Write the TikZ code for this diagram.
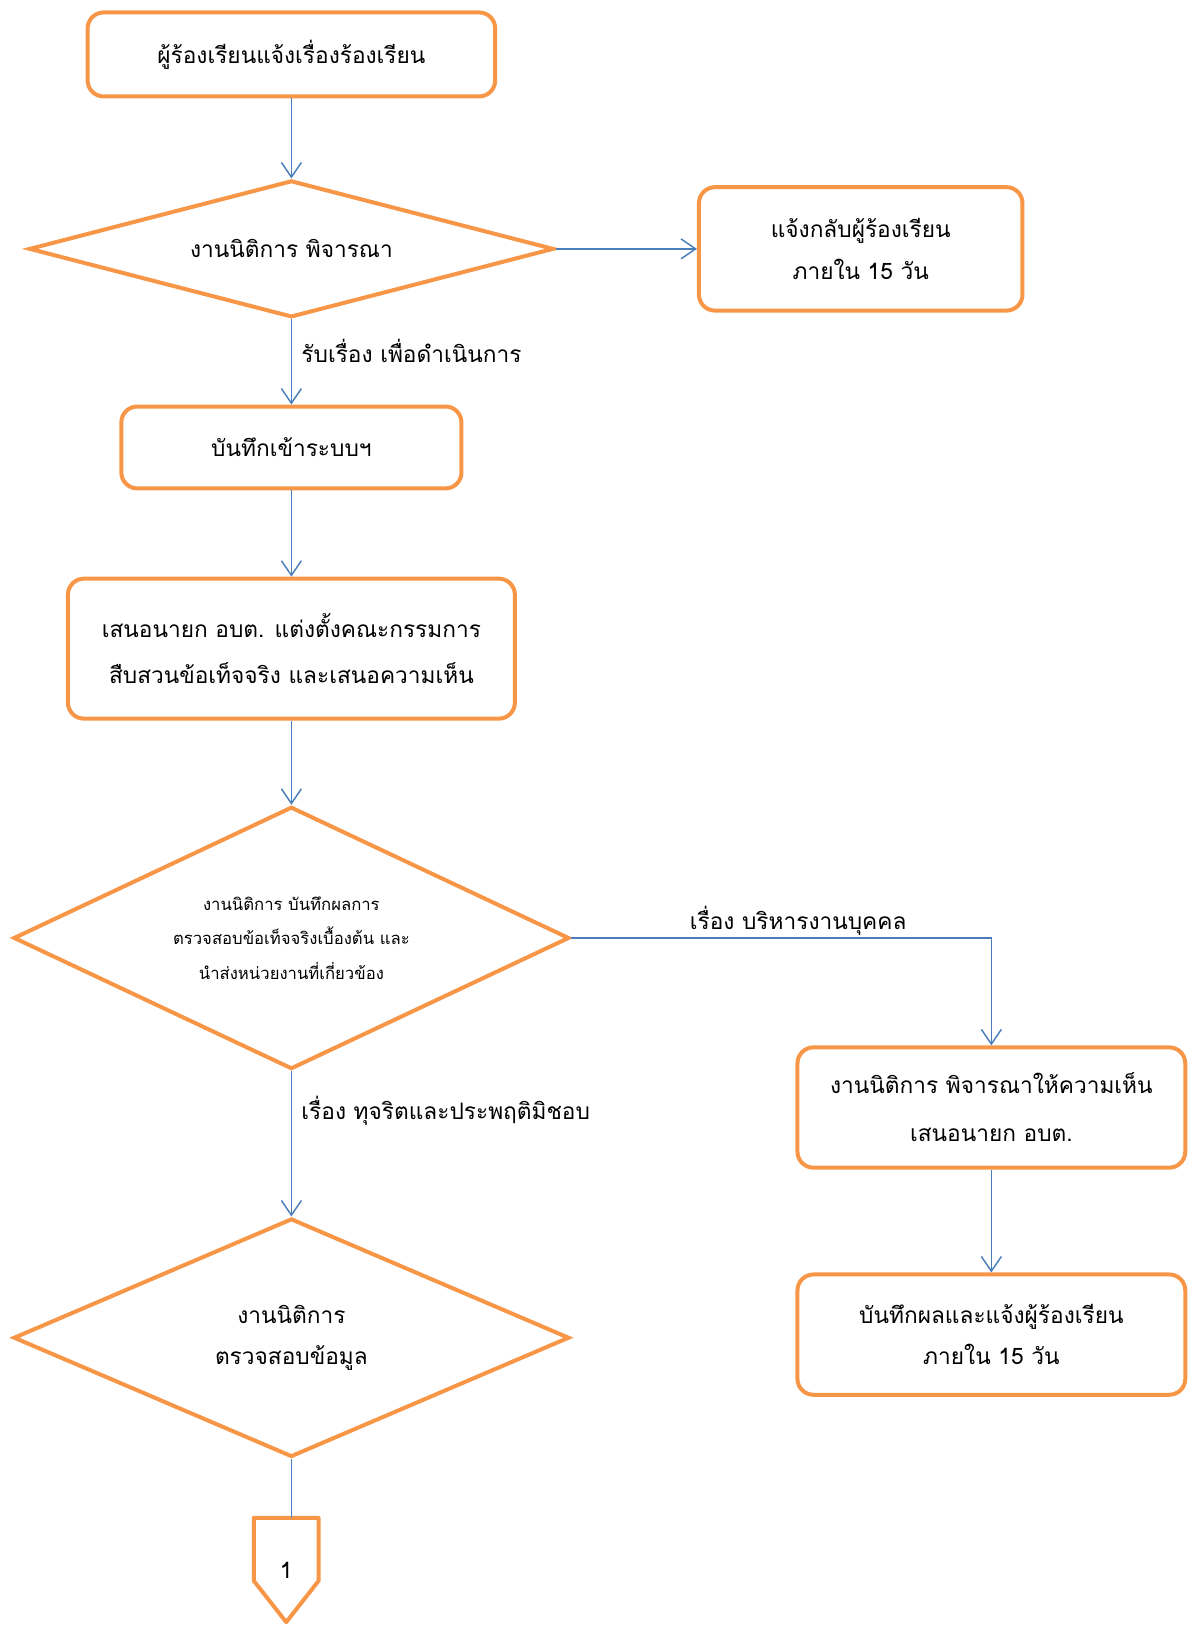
\documentclass[tikz,border=0pt]{standalone}
\usepackage{fontspec}
\newfontfamily\thaifont[Script=Thai]{Loma}
\usetikzlibrary{shapes.geometric,arrows.meta}
\definecolor{orng}{HTML}{F79646}
\definecolor{blu}{HTML}{4A7EBB}
\begin{document}
\begin{tikzpicture}[x=0.7775pt,y=-0.7775pt,
  box/.style={draw=orng,line width=3pt,rounded corners=12pt,align=center,inner sep=0pt,
    font=\thaifont\fontsize{17}{31}\selectfont},
  dia/.style={draw=orng,line width=3pt,diamond,align=center,inner sep=0pt,
    font=\thaifont\fontsize{17}{31}\selectfont},
  conn/.style={draw=blu,line width=1.1pt,-{Straight Barb[length=11pt,width=15pt,line width=1.1pt]}},
  plain/.style={draw=blu,line width=1.1pt},
  lbl/.style={font=\thaifont\fontsize{17}{31}\selectfont,inner sep=0pt}]
\useasboundingbox (0,0) rectangle (1145,1568);
\clip (0,0) rectangle (1145,1568);

\node[box,minimum width=393*0.7775pt,minimum height=81*0.7775pt] (b1) at (281,52.5) {ผู้ร้องเรียนแจ้งเรื่องร้องเรียน};
\node[dia,aspect=3.83,minimum width=506*0.7775pt,minimum height=132*0.7775pt] (d1) at (281,240) {งานนิติการ พิจารณา};
\node[box,minimum width=312*0.7775pt,minimum height=119*0.7775pt] (b2) at (830,240) {แจ้งกลับผู้ร้องเรียน\\ภายใน 15 วัน};
\node[box,minimum width=328*0.7775pt,minimum height=79*0.7775pt] (b3) at (281,431.5) {บันทึกเข้าระบบฯ};
\node[box,minimum width=431*0.7775pt,minimum height=135*0.7775pt,
  font=\thaifont\fontsize{17}{35}\selectfont] (b4) at (281,625.5) {เสนอนายก อบต. แต่งตั้งคณะกรรมการ\\สืบสวนข้อเท็จจริง และเสนอความเห็น};
\node[dia,aspect=2.12,minimum width=536*0.7775pt,minimum height=253*0.7775pt,
  font=\thaifont\fontsize{12.5}{26}\selectfont] (d2) at (281,904.5) {งานนิติการ บันทึกผลการ\\ตรวจสอบข้อเท็จจริงเบื้องต้น และ\\นำส่งหน่วยงานที่เกี่ยวข้อง};
\node[box,minimum width=374*0.7775pt,minimum height=116*0.7775pt,
  font=\thaifont\fontsize{17}{36}\selectfont] (b5) at (956,1068) {งานนิติการ พิจารณาให้ความเห็น\\เสนอนายก อบต.};
\node[box,minimum width=374*0.7775pt,minimum height=116*0.7775pt] (b6) at (956,1287) {บันทึกผลและแจ้งผู้ร้องเรียน\\ภายใน 15 วัน};
\node[dia,aspect=2.33,minimum width=536*0.7775pt,minimum height=230*0.7775pt] (d3) at (281,1290) {งานนิติการ\\ตรวจสอบข้อมูล};
\node[inner sep=0pt,minimum width=62*0.7775pt,minimum height=100*0.7775pt,
  font=\thaifont\fontsize{17}{20}\selectfont] (off) at (276,1514) {1};
\draw[orng,line width=3pt,line join=round]
  (off.north west) -- (off.north east) -- ([yshift=31pt]off.south east) -- (off.south)
  -- ([yshift=31pt]off.south west) -- cycle;

\draw[conn] (b1) -- (d1);
\draw[conn] (d1.east) -- (b2.west);
\draw[conn] (d1.south) -- node[lbl,pos=0.37,anchor=west,xshift=7pt] (l1) {รับเรื่อง เพื่อดำเนินการ} (b3.north);
\draw[conn] (b3) -- (b4);
\draw[conn] (b4) -- (d2);
\draw[conn] (d2.east) -| node[lbl,pos=0.27,anchor=south,yshift=1pt] (l2) {เรื่อง บริหารงานบุคคล} (b5.north);
\draw[conn] (b5) -- (b6);
\draw[conn] (d2.south) -- node[lbl,pos=0.27,anchor=west,xshift=7pt] (l3) {เรื่อง ทุจริตและประพฤติมิชอบ} (d3.north);
\draw[plain] (d3.south) -- (d3.south |- off.north);
\end{tikzpicture}
\end{document}
